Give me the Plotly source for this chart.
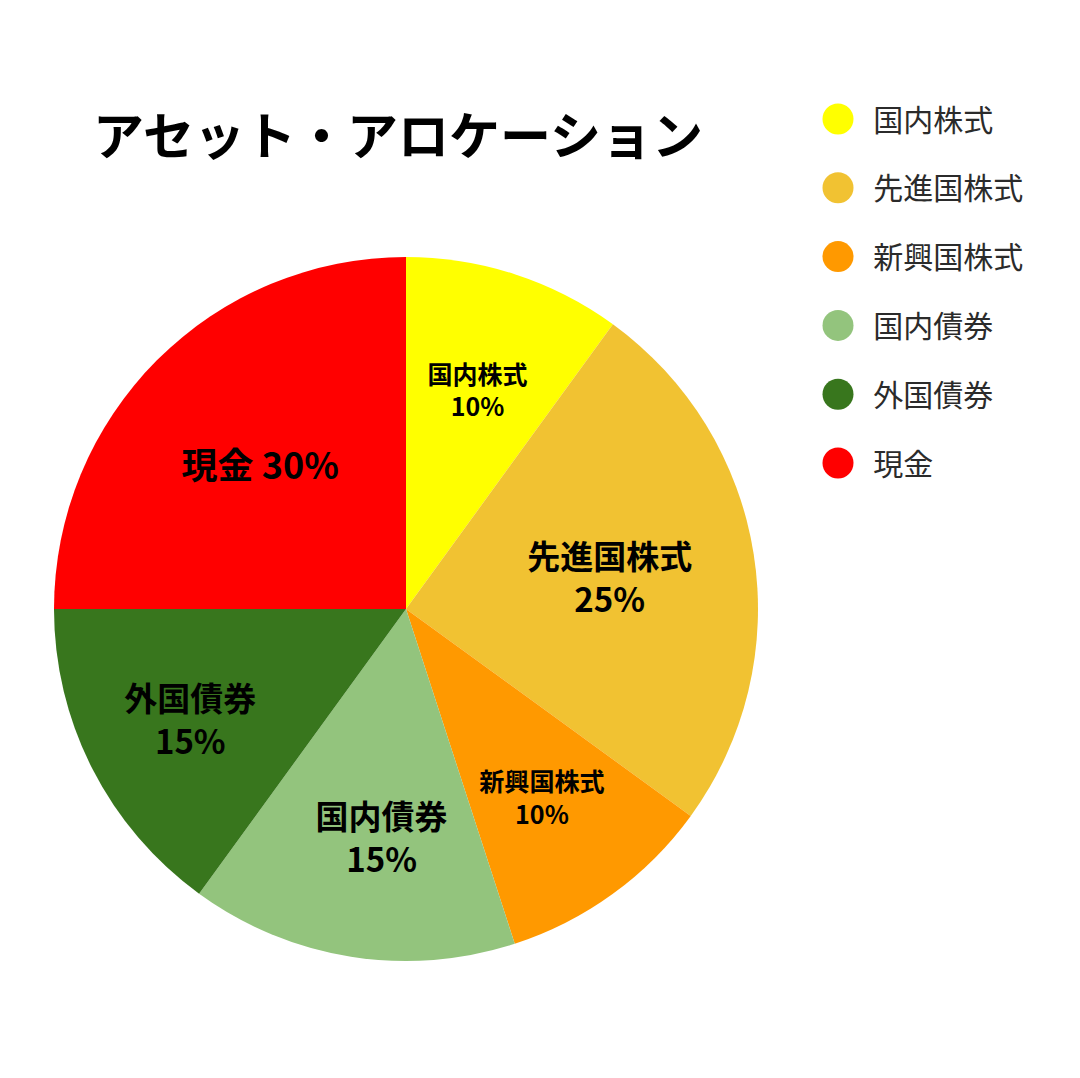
import plotly.graph_objects as go

# asset allocation: slice sizes as drawn, and the percentages printed on them
labels = ["国内株式", "先進国株式", "新興国株式", "国内債券", "外国債券", "現金"]
values = [10, 25, 10, 15, 15, 25]
pct_labels = [10, 25, 10, 15, 15, 30]
colors = ["#FFFF00", "#F1C232", "#FF9900", "#93C47D", "#38761D", "#FF0000"]
label_sizes = [25, 33, 26, 33, 33, 36]
label_sep = ["<br>", "<br>", "<br>", "<br>", "<br>", " "]
label_pad = ["", "", "", "\u2002\u2009", "", ""]
# labels are set on invisible copies of the pie scaled by these factors
label_ring = [0.86, 1.0, 0.86, 0.95, 1.0, 1.0]

FONT = "Noto Sans CJK JP"

# the page body keeps an 8px margin, so the figure is 1064x1062 drawn at (8, 8)
W, H, OFF = 1064, 1062, 8
CX, CY, R = 406, 609, 352
ROW, ROW0 = 68.8, 119  # legend row pitch and first row centre, px


def fx(px):
    return (px - OFF) / W


def fy(py):
    return 1 - (py - OFF) / H


def pie_domain(r):
    return dict(x=[fx(CX - r), fx(CX + r)], y=[fy(CY + r), fy(CY - r)])


def legend_range(shift_px=0):
    top = (OFF - ROW0 - shift_px) / ROW
    return [top + H / ROW, top]


texts = [f"{pad}{lab}{sep}{pad}{p}%"
         for pad, lab, sep, p in zip(label_pad, labels, label_sep, pct_labels)]

fig = go.Figure()

fig.add_trace(go.Pie(
    labels=labels, values=values, textinfo="none",
    sort=False, direction="clockwise", rotation=0,
    marker=dict(colors=colors, line=dict(width=0)),
    domain=pie_domain(R),
    showlegend=False, hoverinfo="label+percent",
))

for ring in sorted(set(label_ring)):
    fig.add_trace(go.Pie(
        labels=labels, values=values,
        text=[t if k == ring else "" for t, k in zip(texts, label_ring)],
        textinfo="text", textposition="inside",
        insidetextorientation="horizontal",
        sort=False, direction="clockwise", rotation=0,
        marker=dict(colors=["rgba(0,0,0,0)"] * len(labels), line=dict(width=0)),
        textfont=dict(family=FONT, size=label_sizes, color="black", weight=700),
        domain=pie_domain(ring * R),
        showlegend=False, hoverinfo="skip",
    ))

# legend drawn as a marker column so the dots can be large circles
fig.add_trace(go.Scatter(
    x=[0] * len(labels), y=list(range(len(labels))),
    mode="markers", marker=dict(size=31, color=colors, symbol="circle"),
    showlegend=False, hoverinfo="skip", cliponaxis=False,
))
fig.add_trace(go.Scatter(
    x=[0] * len(labels), y=list(range(len(labels))), yaxis="y2",
    mode="markers+text", text=["\u2002" + lab for lab in labels],
    textposition="middle right",
    marker=dict(size=31, color="rgba(0,0,0,0)"),
    textfont=dict(family=FONT, size=30, color="#2b2b2b"),
    showlegend=False, hoverinfo="skip", cliponaxis=False,
))

x0 = (fx(838) - 0.7) / 0.3
fig.update_layout(
    width=W, height=H,
    margin=dict(l=0, r=0, t=0, b=0),
    paper_bgcolor="white", plot_bgcolor="white",
    title=dict(text="アセット・アロケーション", x=fx(398), xanchor="center",
               y=fy(137), yanchor="middle",
               font=dict(family=FONT, size=51, color="black", weight=700)),
    xaxis=dict(domain=[0.7, 1.0], range=[-x0, 1 - x0], visible=False, fixedrange=True),
    yaxis=dict(domain=[0, 1], range=legend_range(), visible=False, fixedrange=True),
    yaxis2=dict(domain=[0, 1], range=legend_range(4), overlaying="y",
                visible=False, fixedrange=True),
)

fig.write_html("out.html")
